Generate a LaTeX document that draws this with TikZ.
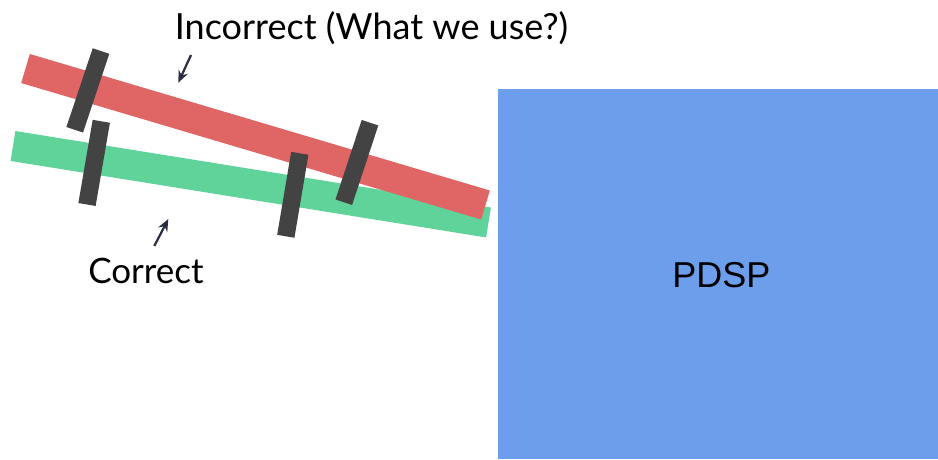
\documentclass[tikz,border=0pt]{standalone}
\usepackage{fontspec}
\setmainfont{Lato}
\newfontfamily\pdspfont{Liberation Sans}
\usetikzlibrary{arrows.meta}
\definecolor{redbar}{HTML}{E06666}
\definecolor{greenbar}{HTML}{5FD39A}
\definecolor{darkbar}{HTML}{434343}
\definecolor{pdspblue}{HTML}{6D9EEB}
\definecolor{arrowcol}{HTML}{2B2D42}
\tikzset{
  rail/.style={line width=30.3pt, line cap=butt},
  clamp/.style={line width=17.5pt, line cap=butt, draw=darkbar},
  pointer/.style={draw=arrowcol, line width=2.2pt, -{Stealth[length=12pt, width=10pt]}},
  label/.style={anchor=base, inner sep=0pt, text=black},
}
\begin{document}
\begin{tikzpicture}[x=1pt, y=-1pt]
\useasboundingbox (0,0) rectangle (938,459);
% PDSP block
\fill[pdspblue] (498.3,89.3) rectangle (938,459);
\node[label, font=\pdspfont\fontsize{36}{40}\selectfont] (pdsp) at (721.3,287.7) {PDSP};
% rails
\draw[rail, draw=greenbar] (13,146) -- (488.5,222.5);
\draw[rail, draw=redbar] (25.5,68.5) -- (485.5,205);
% clamps
\draw[clamp] (101,51) -- (74.7,129.8);
\draw[clamp] (101.3,121.3) -- (87,204.5);
\draw[clamp] (299.8,153.3) -- (285.8,236.3);
\draw[clamp] (370,122.7) -- (343.8,202.2);
% labels
\node[label, font=\fontsize{36}{40}\selectfont] (inc) at (371.5,39.3) {Incorrect (What we use?)};
\node[label, font=\fontsize{35}{40}\selectfont] (cor) at (146,283.3) {Correct};
% pointers
\coordinate (incT) at (191,55);
\coordinate (incH) at (178.3,82.7);
\coordinate (corT) at (154.3,246);
\coordinate (corH) at (168.3,219);
\draw[pointer] (incT) -- (incH);
\draw[pointer] (corT) -- (corH);
\end{tikzpicture}
\end{document}
